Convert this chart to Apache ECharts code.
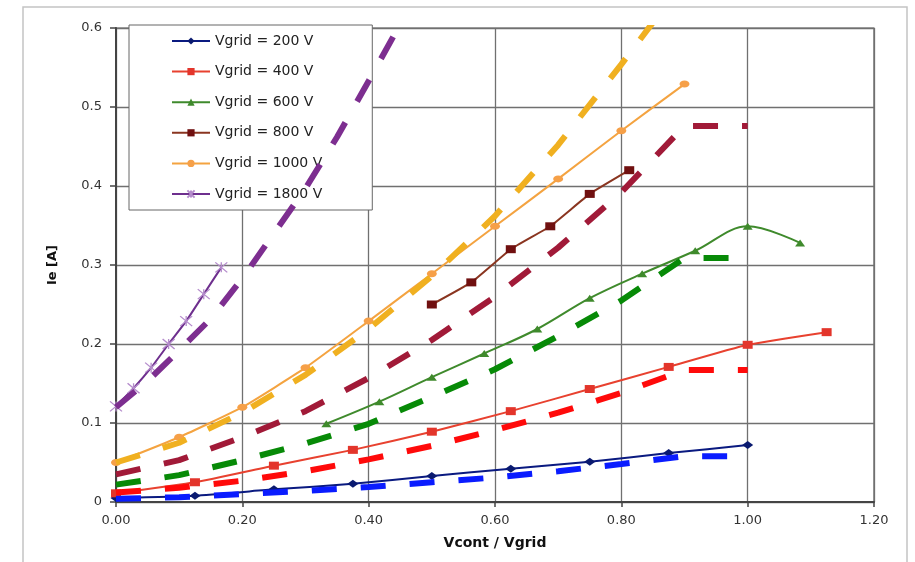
<!DOCTYPE html>
<html>
<head>
<meta charset="utf-8">
<script src="https://cdn.jsdelivr.net/npm/echarts@6/dist/echarts.min.js"></script>
<style>
  html, body { margin: 0; padding: 0; background: #fff; }
  #chart { width: 915px; height: 562px; }
</style>
</head>
<body>
<div id="chart"></div>
<script>
// Measured emission current Ie [A] against Vcont / Vgrid, one list per grid voltage
const ratio200 = [0, 0.125, 0.25, 0.375, 0.5, 0.625, 0.75, 0.875, 1.0];
const ie200 = [0.005, 0.008, 0.016, 0.023, 0.033, 0.042, 0.051, 0.062, 0.072];

const ratio400 = [0, 0.125, 0.25, 0.375, 0.5, 0.625, 0.75, 0.875, 1.0, 1.125];
const ie400 = [0.011, 0.025, 0.046, 0.066, 0.089, 0.115, 0.143, 0.171, 0.199, 0.215];

const ratio600 = [0.333, 0.417, 0.5, 0.583, 0.667, 0.75, 0.833, 0.917, 1.0, 1.083];
const ie600 = [0.099, 0.127, 0.158, 0.188, 0.219, 0.258, 0.289, 0.318, 0.349, 0.328];

const ratio800 = [0.5, 0.5625, 0.625, 0.6875, 0.75, 0.8125];
const ie800 = [0.25, 0.278, 0.32, 0.349, 0.39, 0.42];

const ratio1000 = [0, 0.1, 0.2, 0.3, 0.4, 0.5, 0.6, 0.7, 0.8, 0.9];
const ie1000 = [0.05, 0.082, 0.12, 0.17, 0.229, 0.289, 0.349, 0.409, 0.47, 0.529];

const ratio1800 = [0, 0.0278, 0.0556, 0.0833, 0.1111, 0.1389, 0.1667];
const ie1800 = [0.121, 0.144, 0.17, 0.2, 0.229, 0.263, 0.297];

// Model curves (thick dashed lines)
const modelRatio = [0, 0.1, 0.2, 0.3, 0.4, 0.5, 0.6, 0.7, 0.8, 0.9, 1.0];
const model200 = [0.004, 0.006, 0.010, 0.014, 0.019, 0.025, 0.031, 0.039, 0.048, 0.058, 0.058];
const model400 = [0.012, 0.018, 0.027, 0.039, 0.054, 0.071, 0.091, 0.113, 0.138, 0.167, 0.167];
const model600 = [0.022, 0.034, 0.053, 0.074, 0.099, 0.133, 0.168, 0.210, 0.255, 0.309, 0.309];
const model800 = [0.035, 0.053, 0.082, 0.115, 0.157, 0.205, 0.260, 0.322, 0.392, 0.476, 0.476];
const model1000Ratio = [0, 0.1, 0.2, 0.3, 0.4, 0.5, 0.6, 0.7, 0.8, 0.9];
const model1000 = [0.05, 0.075, 0.113, 0.161, 0.219, 0.286, 0.362, 0.452, 0.554, 0.660];
const model1800Ratio = [0, 0.05, 0.1, 0.15, 0.2, 0.25, 0.3, 0.35, 0.4, 0.45, 0.5];
const model1800 = [0.12, 0.153, 0.192, 0.232, 0.283, 0.34, 0.397, 0.462, 0.533, 0.605, 0.67];

const legendNames = ['Vgrid = 200 V', 'Vgrid = 400 V', 'Vgrid = 600 V',
                     'Vgrid = 800 V', 'Vgrid = 1000 V', 'Vgrid = 1800 V'];

const pairs = (xs, ys) => xs.map((x, i) => [x, ys[i]]);

const FONT = 'DejaVu Sans, Arial, sans-serif';
const starPath = 'path://M0,0L10,10M10,0L0,10M5,0L5,10';

function measured(name, xs, ys, lineColor, markColor, symbol, size, smooth) {
  return {
    name, type: 'line', z: 3,
    data: pairs(xs, ys),
    smooth: smooth,
    symbol, symbolSize: size,
    showSymbol: true,
    lineStyle: { color: lineColor, width: 2 },
    itemStyle: { color: markColor, borderColor: markColor, borderWidth: symbol === starPath ? 1.2 : 0 },
    emphasis: { disabled: true },
    animation: false
  };
}

// Dashed model curves sit above the legend box
function model(name, xs, ys, color) {
  return {
    name, type: 'line', z: 10,
    data: pairs(xs, ys),
    showSymbol: false, symbol: 'none',
    lineStyle: { color, width: 6, type: [25, 24], cap: 'butt' },
    emphasis: { disabled: true },
    animation: false
  };
}

const chart = echarts.init(document.getElementById('chart'), null, { renderer: 'canvas' });

chart.setOption({
  animation: false,
  backgroundColor: '#fff',
  graphic: [{
    type: 'rect', z: -10, silent: true,
    shape: { x: 23, y: 7, width: 884, height: 600 },
    style: { fill: '#fff', stroke: '#c4c4c4', lineWidth: 1.5 }
  }],
  grid: {
    left: 116, right: 41, top: 28, bottom: 60,
    show: true, borderColor: '#555', borderWidth: 1.2
  },
  legend: {
    data: legendNames,
    orient: 'vertical',
    left: 129, top: 25,
    z: 1,
    padding: [9, 50, 9, 42],
    itemWidth: 38, itemHeight: 9, itemGap: 16.6,
    backgroundColor: '#fff',
    borderColor: '#666', borderWidth: 1,
    textStyle: { fontFamily: FONT, fontSize: 14, color: '#222' },
    selectedMode: false
  },
  xAxis: {
    type: 'value', min: 0, max: 1.2, interval: 0.2,
    name: 'Vcont / Vgrid', nameLocation: 'middle', nameGap: 34,
    nameTextStyle: { fontFamily: FONT, fontSize: 14, fontWeight: 'bold', color: '#111' },
    axisLine: { show: true, lineStyle: { color: '#444', width: 2 } },
    axisTick: { show: true, length: 5, lineStyle: { color: '#444', width: 1.5 } },
    axisLabel: { margin: 12, fontFamily: FONT, fontSize: 13, color: '#333',
                 formatter: v => v.toFixed(2) },
    splitLine: { show: true, lineStyle: { color: '#707070', width: 1.3 } }
  },
  yAxis: {
    type: 'value', min: 0, max: 0.6, interval: 0.1,
    name: 'Ie [A]', nameLocation: 'middle', nameGap: 57,
    nameTextStyle: { fontFamily: FONT, fontSize: 13, fontWeight: 'bold', color: '#111' },
    axisLine: { show: true, lineStyle: { color: '#444', width: 2 } },
    axisTick: { show: true, length: 6, lineStyle: { color: '#444', width: 1.5 } },
    axisLabel: { margin: 14, fontFamily: FONT, fontSize: 13, color: '#333',
                 formatter: v => (v === 0 ? '0' : v.toFixed(1)) },
    splitLine: { show: true, lineStyle: { color: '#707070', width: 1.3 } }
  },
  series: [
    measured(legendNames[0], ratio200, ie200, '#0a1a80', '#0a1a70', 'diamond', [11, 8], 0.15),
    measured(legendNames[1], ratio400, ie400, '#e8412f', '#e3352b', 'rect', [10, 8], 0.15),
    measured(legendNames[2], ratio600, ie600, '#3f8a2c', '#3f8a2c', 'triangle', [10, 7], 0.35),
    measured(legendNames[3], ratio800, ie800, '#8a3520', '#701010', 'rect', [10, 8], 0.1),
    measured(legendNames[4], ratio1000, ie1000, '#f4a340', '#f6a048', 'circle', [10, 7], 0.15),
    measured(legendNames[5], ratio1800, ie1800, '#6e2f8e', '#b58ccc', starPath, [12, 10], 0.1),
    model('model 200 V', modelRatio, model200, '#0a1cff'),
    model('model 400 V', modelRatio, model400, '#ff0a0a'),
    model('model 600 V', modelRatio, model600, '#078a07'),
    model('model 800 V', modelRatio, model800, '#a11a38'),
    model('model 1000 V', model1000Ratio, model1000, '#f0b020'),
    model('model 1800 V', model1800Ratio, model1800, '#7d2e90')
  ]
});
</script>
</body>
</html>
